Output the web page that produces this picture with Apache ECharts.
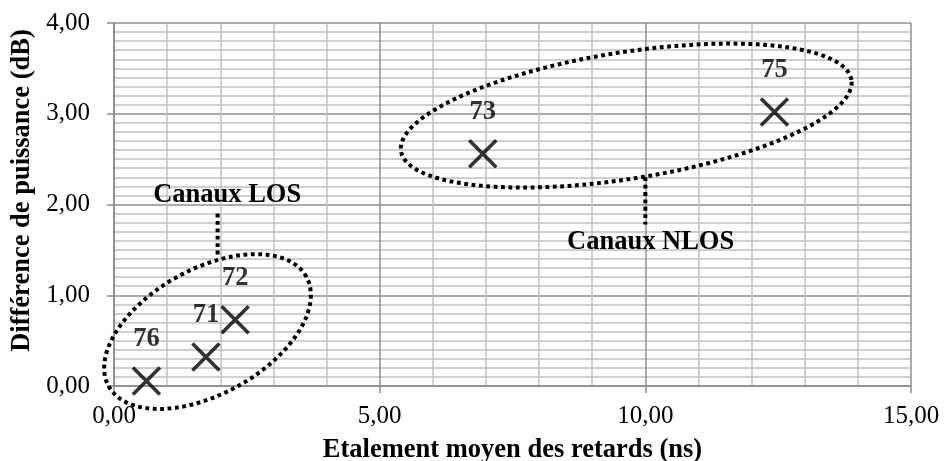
<!DOCTYPE html>
<html>
<head>
<meta charset="utf-8">
<script src="https://cdn.jsdelivr.net/npm/echarts@6/dist/echarts.min.js"></script>
<style>
  html, body { margin: 0; padding: 0; background: #fff; }
  #chart { width: 944px; height: 461px; }
</style>
</head>
<body>
<div id="chart"></div>
<script>
// Channel measurements: mean delay spread vs. power difference
const channelNames = ['76', '71', '72', '73', '75'];
const delaySpread = [0.61, 1.73, 2.28, 6.94, 12.43];   // ns
const powerDiff = [0.055, 0.32, 0.73, 2.56, 3.02];    // dB

// Axis tick labels (French decimal comma)
const xTickLabels = ['0,00', '5,00', '10,00', '15,00'];
const yTickLabels = ['0,00', '1,00', '2,00', '3,00', '4,00'];

// Channel groups circled on the chart
const groupNames = ['Canaux LOS', 'Canaux NLOS'];
const groupCenterX = [1.76, 9.64];
const groupCenterY = [0.60, 2.98];

// Outline geometry for each group (radii in px, tilt in degrees),
// plus where its caption sits and the leader line from caption to outline
const groupShapes = [
  { rx: 113, ry: 62.5, tilt: 29, caption: [2.13, 2.10], leader: [[1.95, 1.90], [1.95, 1.42]] },
  { rx: 228, ry: 63.3, tilt: 9, caption: [10.10, 1.58], leader: [[10.0, 2.30], [10.0, 1.78]] }
];

const serif = '"Liberation Serif", "Times New Roman", serif';
const dotted = { stroke: '#000', lineWidth: 4, lineDash: [3.8, 3.6], lineCap: 'butt', fill: null };

const chart = echarts.init(document.getElementById('chart'), null, { renderer: 'canvas' });

const points = delaySpread.map((x, i) => ({ name: channelNames[i], value: [x, powerDiff[i]] }));

chart.setOption({
  animation: false,
  backgroundColor: '#fff',
  grid: { left: 114, right: 33, top: 23, bottom: 75, containLabel: false, outerBoundsMode: 'none' },
  xAxis: {
    type: 'value', min: 0, max: 15, interval: 5,
    name: 'Etalement moyen des retards (ns)',
    nameLocation: 'middle', nameGap: 51,
    nameTextStyle: { fontFamily: serif, fontWeight: 'bold', fontSize: 26.5, color: '#000' },
    axisLine: { show: true, lineStyle: { color: '#8a8a8a', width: 1.5 } },
    axisTick: { show: true, inside: false, length: 7, lineStyle: { color: '#8a8a8a', width: 1.5 } },
    minorTick: { show: false, splitNumber: 5 },
    axisLabel: {
      margin: 18, fontFamily: serif, fontSize: 25, color: '#000',
      formatter: v => xTickLabels[Math.round(v / 5)]
    },
    splitLine: { show: true, lineStyle: { color: '#8f8f8f', width: 1.5 } },
    minorSplitLine: { show: true, lineStyle: { color: '#c0c0c0', width: 1.5 } }
  },
  yAxis: {
    type: 'value', min: 0, max: 4, interval: 1,
    name: 'Différence de puissance (dB)',
    nameLocation: 'middle', nameGap: 77, nameRotate: 90,
    nameTextStyle: { fontFamily: serif, fontWeight: 'bold', fontSize: 26.5, color: '#000', padding: [0, 0, 0, 28] },
    axisLine: { show: true, lineStyle: { color: '#8a8a8a', width: 1.5 } },
    axisTick: { show: true, inside: false, length: 7, lineStyle: { color: '#8a8a8a', width: 1.5 } },
    minorTick: { show: false, splitNumber: 10 },
    axisLabel: {
      margin: 24, fontFamily: serif, fontSize: 25, color: '#000',
      formatter: v => yTickLabels[Math.round(v)]
    },
    splitLine: { show: true, lineStyle: { color: '#8f8f8f', width: 1.5 } },
    minorSplitLine: { show: true, lineStyle: { color: '#c0c0c0', width: 1.5 } }
  },
  series: [
    {
      // dotted outlines, leader lines and captions for the LOS / NLOS groups
      type: 'custom',
      coordinateSystem: 'cartesian2d',
      clip: false,
      silent: true,
      z: 3,
      data: groupCenterX.map((x, i) => [x, groupCenterY[i]]),
      renderItem: (params, api) => {
        const i = params.dataIndex;
        const s = groupShapes[i];
        const c = api.coord([api.value(0), api.value(1)]);
        const th = s.tilt * Math.PI / 180;
        const pts = [];
        for (let k = 0; k <= 180; k++) {
          const t = k / 180 * Math.PI * 2;
          const ex = s.rx * Math.cos(t), ey = s.ry * Math.sin(t);
          pts.push([c[0] + ex * Math.cos(th) - ey * Math.sin(th),
                    c[1] - (ex * Math.sin(th) + ey * Math.cos(th))]);
        }
        const p0 = api.coord(s.leader[0]), p1 = api.coord(s.leader[1]);
        const cap = api.coord(s.caption);
        return {
          type: 'group',
          children: [
            { type: 'polyline', shape: { points: pts }, style: dotted },
            { type: 'line', shape: { x1: p0[0], y1: p0[1], x2: p1[0], y2: p1[1] }, style: dotted },
            {
              type: 'text',
              style: {
                x: cap[0], y: cap[1], text: groupNames[i],
                align: 'center', verticalAlign: 'middle',
                font: 'bold 26.5px ' + serif, fill: '#000'
              }
            }
          ]
        };
      }
    },
    {
      type: 'scatter',
      z: 4,
      data: points,
      symbol: 'path://M0,0L10,10M10,0L0,10',
      symbolSize: 27,
      itemStyle: { color: 'none', borderColor: '#000', borderWidth: 3.6 },
      label: {
        show: true, position: 'top', distance: 12,
        formatter: p => p.name,
        fontFamily: serif, fontWeight: 'bold', fontSize: 26.5, color: '#000'
      }
    }
  ]
});
</script>
</body>
</html>
